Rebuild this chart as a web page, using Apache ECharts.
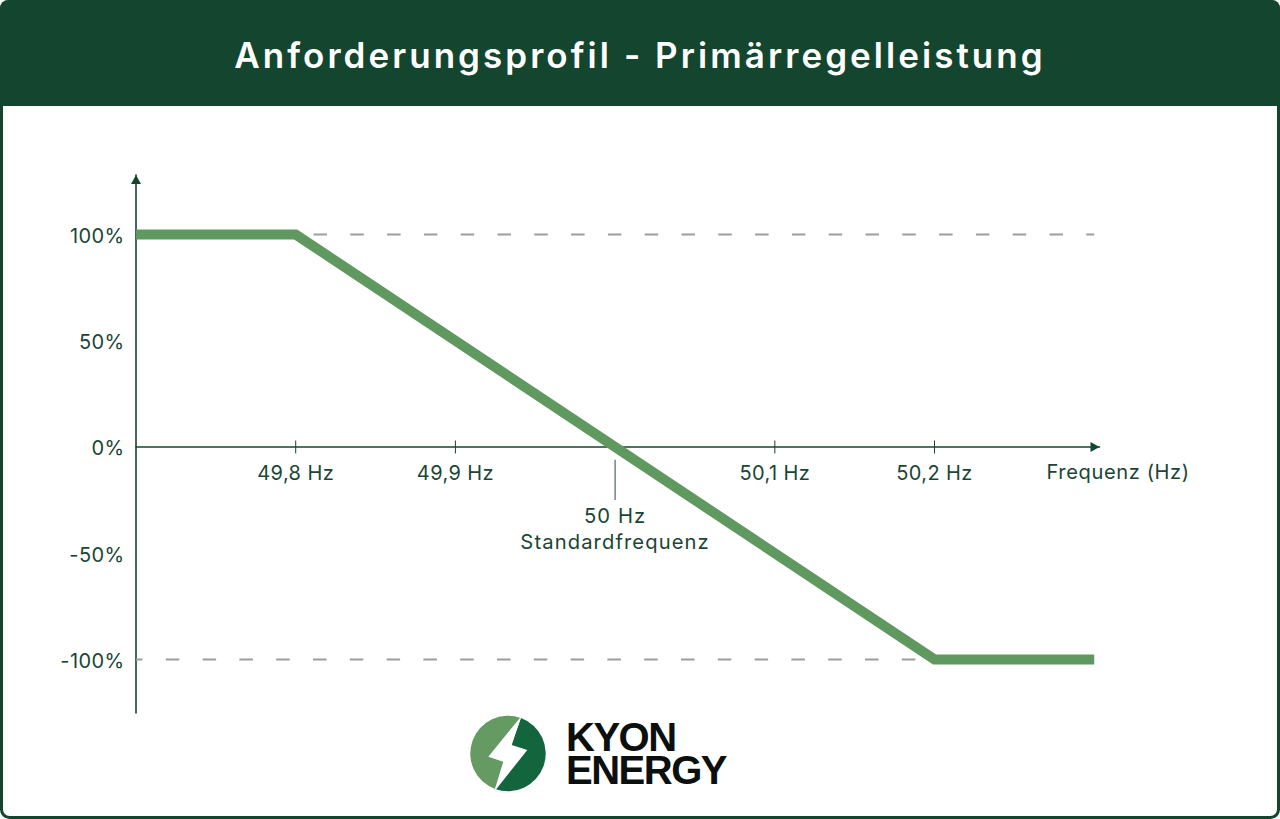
<!DOCTYPE html>
<html lang="de">
<head>
<meta charset="utf-8">
<title>Anforderungsprofil - Primärregelleistung</title>
<style>
html,body{margin:0;padding:0;background:#fff;width:1280px;height:819px;overflow:hidden}
#chart{width:1280px;height:819px}
svg text[style*="35px"]{letter-spacing:3.05px}
svg text[style*="40px"]{letter-spacing:-1.5px}
svg text[style*="20px"]{letter-spacing:.4px}
svg text[style*="20.1px"]{letter-spacing:.6px}
svg text[style*="20.2px"]{letter-spacing:1.1px}
</style>
<script src="https://cdn.jsdelivr.net/npm/echarts@6/dist/echarts.min.js"></script>
</head>
<body>
<div id="chart"></div>
<script>
var titleText = 'Anforderungsprofil - Primärregelleistung';
var xTickValues = [49.8, 49.9, 50.1, 50.2];
var yTickValues = [-100, -50, 0, 50, 100];
var responseProfile = [[49.7, 100], [49.8, 100], [50.2, -100], [50.3, -100]];
var upperLimit = [[49.8, 100], [50.3, 100]];
var lowerLimit = [[49.7, -100], [50.2, -100]];
var standardMarker = [[50, -6], [50, -25]];
var xAxisName = 'Frequenz (Hz)';
var standardLabel = '50 Hz\nStandardfrequenz';
var brandLines = ['KYON', 'ENERGY'];

var INK = '#1b4535', DARK = '#14452f', GREEN = '#5f9960', FONT = 'Inter';

var chart = echarts.init(document.getElementById('chart'), null, {renderer: 'svg'});
chart.setOption({
  animation: false,
  backgroundColor: '#fff',
  textStyle: {fontFamily: FONT},
  grid: {left: 136, top: 175, width: 963.5, height: 538, containLabel: false},
  xAxis: {
    type: 'value', min: 49.7, max: 50.3033,
    splitLine: {show: false},
    axisLine: {onZero: true, lineStyle: {color: DARK, width: 1.6}, symbol: ['none', 'triangle'], symbolSize: [10, 9], symbolOffset: [0, -4.5]},
    axisTick: {show: false},
    axisLabel: {show: false},
    name: xAxisName, nameLocation: 'end', nameGap: -53,
    nameTextStyle: {color: INK, fontSize: 20.1, fontFamily: FONT, verticalAlign: 'top', align: 'left', padding: [15, 0, 0, 0]}
  },
  yAxis: {
    type: 'value', min: -125.2, max: 128,
    splitLine: {show: false},
    axisLine: {onZero: false, lineStyle: {color: DARK, width: 1.6}, symbol: ['none', 'triangle'], symbolSize: [10, 9], symbolOffset: [0, -4.5]},
    axisTick: {show: false},
    axisLabel: {
      customValues: yTickValues, margin: 11.5, color: INK, fontSize: 20, fontFamily: FONT, hideOverlap: false,
      formatter: function (v) { return '{v|' + v + '%}'; },
      rich: {v: {color: INK, fontSize: 20, fontFamily: FONT, padding: [3, 0, 0, 0]}}
    }
  },
  series: [
    {name: 'Obergrenze', type: 'line', data: upperLimit, symbol: 'none', z: 2, silent: true,
     lineStyle: {color: '#9a9f9c', width: 2, type: [13.5, 23.3], dashOffset: 19}},
    {name: 'Untergrenze', type: 'line', data: lowerLimit, symbol: 'none', z: 2, silent: true,
     lineStyle: {color: '#9a9f9c', width: 2, type: [13.5, 23.3], dashOffset: 6.5}},
    {name: 'Achsenmarken', type: 'custom', data: xTickValues.map(function (v) { return [v, 0]; }), z: 3, silent: true,
     encode: {x: 0, y: 1}, clip: false,
     renderItem: function (params, api) {
       var a = api.coord([api.value(0), 3.05]), b = api.coord([api.value(0), -3.05]);
       return {type: 'group', children: [
         {type: 'line', shape: {x1: a[0], y1: a[1], x2: b[0], y2: b[1]}, style: {stroke: DARK, lineWidth: 1}},
         {type: 'text', x: a[0], y: b[1] + 19.5, style: {
           text: api.value(0).toFixed(1).replace('.', ',') + ' Hz', fill: INK,
           font: '400 20px ' + FONT, textAlign: 'center', textVerticalAlign: 'middle'}}
       ]};
     }},
    {name: 'Standardfrequenz', type: 'line', data: standardMarker, symbol: 'circle', symbolSize: 0.01, z: 3, silent: true,
     lineStyle: {color: '#4f6b5f', width: 1.2},
     label: {show: false},
     endLabel: {show: true, formatter: standardLabel, position: 'bottom', distance: 4, offset: [-4, 2], color: INK, fontSize: 20.2, lineHeight: 26, fontFamily: FONT, align: 'center', verticalAlign: 'top'}},
    {name: 'Anforderungsprofil', type: 'line', data: responseProfile, symbol: 'none', z: 4, silent: true, clip: false,
     lineStyle: {color: GREEN, width: 10, cap: 'butt', join: 'miter'}}
  ],
  graphic: {elements: [
    {type: 'rect', silent: true, z: -10, shape: {x: 1.5, y: 1.5, width: 1277, height: 816, r: 8},
     style: {fill: '#fff', stroke: DARK, lineWidth: 3}},
    {type: 'rect', silent: true, z: -9, shape: {x: 0, y: 0, width: 1280, height: 106, r: [8, 8, 0, 0]}, style: {fill: DARK}},
    {type: 'text', silent: true, z: 10, x: 640, y: 55,
     style: {text: titleText, fill: '#fff', font: '600 35px ' + FONT, textAlign: 'center', textVerticalAlign: 'middle'}},
    {type: 'sector', silent: true, z: 10, shape: {cx: 508, cy: 753.5, r: 37.7, r0: 0, startAngle: -1.22, endAngle: 1.92, clockwise: true}, style: {fill: '#12653d'}},
    {type: 'sector', silent: true, z: 10, shape: {cx: 508, cy: 753.5, r: 37.7, r0: 0, startAngle: 1.92, endAngle: 5.06, clockwise: true}, style: {fill: '#659a63'}},
    {type: 'polygon', silent: true, z: 11, shape: {points: [[521.5, 716], [488.3, 756.7], [503.3, 761.7], [494, 792], [527.3, 750], [511.7, 745]]}, style: {fill: '#fff'}},
    {type: 'text', silent: true, z: 10, x: 566, y: 753.5,
     style: {text: brandLines.join('\n'), fill: '#0b0f0d', font: 'bold 40px "Liberation Sans"', lineHeight: 33.5, textAlign: 'left', textVerticalAlign: 'middle'}}
  ]}
});
</script>
</body>
</html>
